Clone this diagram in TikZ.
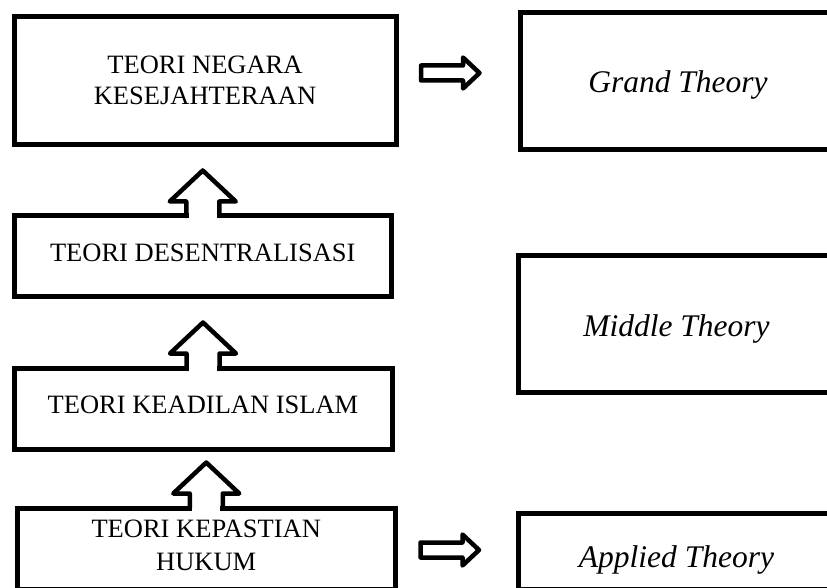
\documentclass[tikz,border=0pt]{standalone}
\usepackage{fontspec}
\setmainfont{Liberation Serif}
\usetikzlibrary{calc}
\tikzset{
  boxbase/.style={draw, rectangle, line width=5pt, inner sep=0pt, outer sep=0pt},
  lbox/.style={boxbase, font=\fontsize{26.5}{31}\selectfont},
  rbox/.style={boxbase, font=\fontsize{31.5}{36}\selectfont\itshape, text depth=0pt},
  arrowline/.style={line width=4.5pt, line join=round, line cap=round},
  uparrow/.pic={
    \fill[white] (-14,3.5) rectangle (14,-14.5);
    \draw[arrowline] (-16.5,0) -- (-16.5,-14.5) -- (-33,-14.5) -- (0,-45.5)
      -- (33,-14.5) -- (16.5,-14.5) -- (16.5,0);
  },
  rightarrow/.pic={
    \draw[arrowline] (0,-7.5) -- (42,-7.5) -- (42,-15.5) -- (58.5,0)
      -- (42,15.5) -- (42,7.5) -- (0,7.5) -- cycle;
  }
}
\begin{document}
\begin{tikzpicture}[x=1pt, y=-1pt]
\useasboundingbox (0,0) rectangle (827,588);
\fill[white] (0,0) rectangle (827,588);
\clip (0,0) rectangle (827,588);

% left column
\node[lbox, align=center, minimum width=382pt, minimum height=128pt] (a) at (205,80.5)
  {TEORI NEGARA\\KESEJAHTERAAN};
\node[lbox, minimum width=377.5pt, minimum height=80.5pt, text depth=6.5pt] (des) at (202.75,256.25)
  {TEORI DESENTRALISASI};
\node[lbox, minimum width=378pt, minimum height=81.5pt, text depth=8pt] (kea) at (203,408.75)
  {TEORI KEADILAN ISLAM};
\node[lbox, font=\fontsize{26.5}{33}\selectfont, minimum width=377.5pt, minimum height=81pt] (kep) at (206.25,548.5)
  {\raisebox{0.85pt}[\height][\depth]{\begin{tabular}{@{}c@{}}TEORI KEPASTIAN\\HUKUM\end{tabular}}};

% right column
\node[rbox, minimum width=316pt, minimum height=137pt, text height=23pt] (grand) at (678,81)
  {Grand Theory};
\node[rbox, minimum width=317pt, minimum height=137.5pt, text height=24.5pt] (middle) at (676.5,323.75)
  {Middle Theory};
\node[rbox, minimum width=316pt, minimum height=75.5pt, text height=31.5pt] (applied) at (676.5,551.25)
  {Applied Theory};

% up arrows
\pic at (des.north) {uparrow};
\pic at (kea.north) {uparrow};
\pic at (kep.north) {uparrow};

% right arrows
\pic at ($(a.east)+(25,-7.5)$) {rightarrow};
\pic at ($(kep.east)+(25.5,1.5)$) {rightarrow};
\end{tikzpicture}
\end{document}
